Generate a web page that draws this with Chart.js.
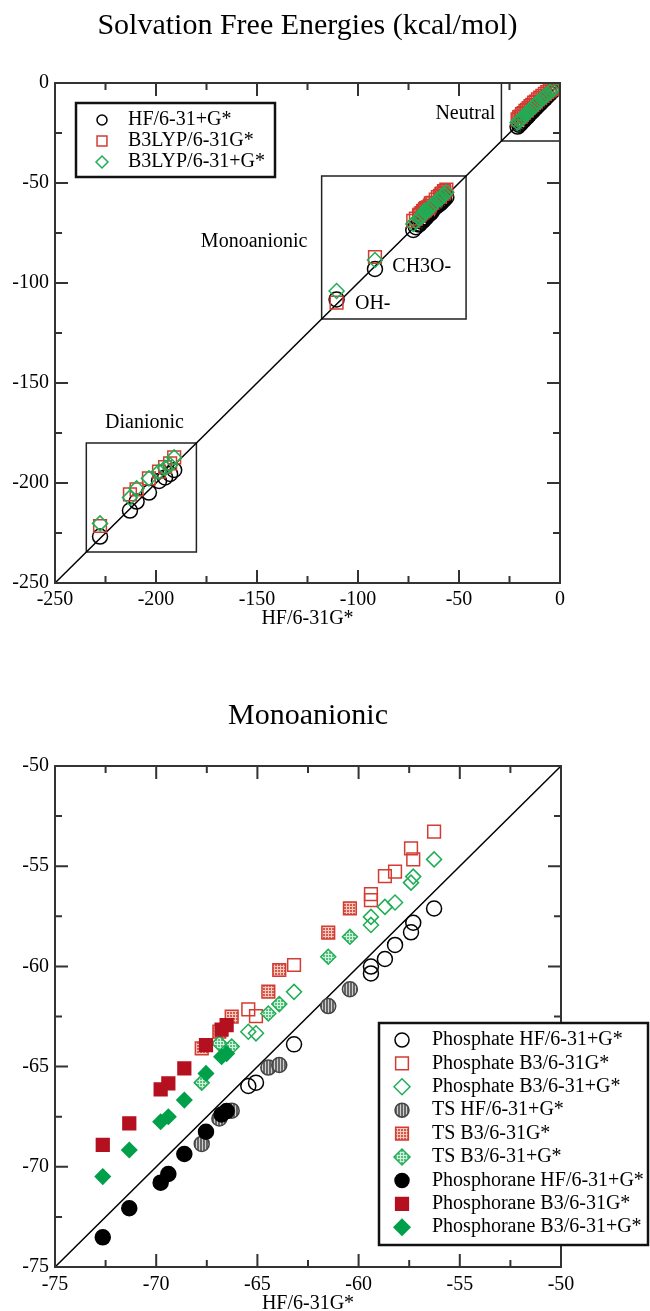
<!DOCTYPE html>
<html>
<head>
<meta charset="utf-8">
<script src="https://cdn.jsdelivr.net/npm/chart.js@4.4.1/dist/chart.umd.min.js"></script>
<style>
  html, body { margin: 0; padding: 0; background: #fff; }
  body { width: 650px; height: 1311px; position: relative; overflow: hidden; }
  #topChart { position: absolute; left: 0; top: 0; }
  #bottomChart { position: absolute; left: 0; top: 650px; }
</style>
</head>
<body>
<canvas id="topChart" width="650" height="650"></canvas>
<canvas id="bottomChart" width="650" height="661"></canvas>
<script>
// x is always HF/6-31G*, y the other level of theory (kcal/mol)

// Monoanionic: phosphates
const phosphateX   = [-65.45, -65.07, -63.19, -59.39, -59.39, -58.70, -58.20, -57.41, -57.30, -56.27];
const phosphateHF  = [-65.97, -65.80, -63.89, -60.01, -60.35, -59.63, -58.93, -58.30, -57.82, -57.11];
const phosphateB3  = [-62.14, -62.48, -59.93, -56.39, -56.69, -55.49, -55.27, -54.11, -54.66, -53.28];
const phosphateB3p = [-63.26, -63.34, -61.27, -57.53, -57.93, -57.03, -56.81, -55.82, -55.52, -54.66];

// Monoanionic: transition states
const tsX   = [-67.75, -66.88, -66.27, -64.46, -63.92, -61.50, -60.43];
const tsHF  = [-68.86, -67.59, -67.20, -65.05, -64.92, -61.98, -61.14];
const tsB3  = [-64.09, -63.26, -62.51, -61.26, -60.18, -58.32, -57.10];
const tsB3p = [-65.80, -63.84, -64.00, -62.35, -61.88, -59.52, -58.52];

// Monoanionic: phosphoranes
const phosphoraneX   = [-72.64, -71.33, -69.78, -69.40, -68.61, -67.54, -66.77, -66.52];
const phosphoraneHF  = [-73.52, -72.07, -70.79, -70.36, -69.36, -68.25, -67.39, -67.22];
const phosphoraneB3  = [-68.91, -67.83, -66.14, -65.84, -65.09, -63.93, -63.15, -62.93];
const phosphoraneB3p = [-70.49, -69.16, -67.75, -67.50, -66.67, -65.34, -64.51, -64.35];

// small anions CH3O-, OH-
const ionX   = [-91.6, -110.6];
const ionHF  = [-93.0, -108.2];
const ionB3  = [-87.0, -109.8];
const ionB3p = [-88.5, -104.0];

// neutral molecules
const neutralX   = [-21.0, -20.2, -19.5, -18.8, -18.0, -17.1, -16.3, -15.5, -14.6, -13.7, -12.8, -11.9, -10.9, -9.8, -8.7, -7.5, -6.3, -5.1, -4.0, -3.0];
const neutralHF  = [-21.8, -20.9, -20.3, -19.4, -18.7, -17.6, -16.9, -16.1, -15.0, -14.2, -13.1, -12.3, -11.2, -10.2, -9.0, -7.9, -6.6, -5.4, -4.2, -3.3];
const neutralB3  = [-18.2, -17.0, -16.8, -15.6, -15.1, -13.9, -13.4, -12.5, -11.6, -10.9, -9.8, -9.3, -8.2, -7.3, -6.4, -5.4, -4.6, -3.7, -3.0, -2.4];
const neutralB3p = [-19.8, -19.0, -18.3, -17.5, -16.7, -15.8, -15.0, -14.2, -13.3, -12.5, -11.5, -10.7, -9.8, -8.8, -7.7, -6.7, -5.5, -4.5, -3.6, -2.7];

// dianions
const dianionX   = [-227.7, -212.9, -209.6, -203.5, -198.5, -195.5, -193.0, -191.0];
const dianionHF  = [-226.8, -213.8, -209.3, -204.8, -199.0, -197.2, -195.5, -193.5];
const dianionB3  = [-221.5, -205.7, -203.2, -197.7, -194.3, -192.0, -190.2, -187.2];
const dianionB3p = [-220.2, -207.3, -202.7, -197.7, -194.3, -192.5, -191.0, -187.2];

const topLabels = ['HF/6-31+G*', 'B3LYP/6-31G*', 'B3LYP/6-31+G*'];
const bottomLabels = [
  'Phosphate HF/6-31+G*', 'Phosphate B3/6-31G*', 'Phosphate B3/6-31+G*',
  'TS HF/6-31+G*', 'TS B3/6-31G*', 'TS B3/6-31+G*',
  'Phosphorane HF/6-31+G*', 'Phosphorane B3/6-31G*', 'Phosphorane B3/6-31+G*'
];

// axis ranges and steps
const topRange = [-250, 0];
const topStep = 50;
const bottomRange = [-75, -50];
const bottomStep = 5;

// region boxes on the top chart (same range on both axes)
const neutralBox = [-29, 0];
const monoBox = [-118, -46.5];
const dianionBox = [-234.5, -180];

const regionText = ['Neutral', 'Monoanionic', 'Dianionic', 'CH3O-', 'OH-'];
const regionTextX = [-32, -125, -205.7, -83, -101.5];
const regionTextY = [-15.5, -79.5, -170, -92, -110.5];
const regionAlign = ['right', 'right', 'center', 'left', 'left'];

const SERIF = '"Liberation Serif", "Times New Roman", serif';
const BLACK = '#000';
const RED = '#d23c32';
const RED_DARK = '#b5101f';
const GREEN = '#1fae55';
const GREEN_DARK = '#00a04a';
const NONE = 'rgba(255,255,255,0)';

function pts(xs, ys) {
  return xs.map((x, i) => ({ x: x, y: ys[i] }));
}

function hatch(base, line, grid) {
  const c = document.createElement('canvas');
  c.width = 3; c.height = 3;
  const g = c.getContext('2d');
  g.fillStyle = base; g.fillRect(0, 0, 3, 3);
  g.fillStyle = line; g.fillRect(1, 0, 1, 3);
  if (grid) g.fillRect(0, 1, 3, 1);
  return g.createPattern(c, 'repeat');
}

function boxPts(b) {
  return [{x: b[0], y: b[0]}, {x: b[1], y: b[0]}, {x: b[1], y: b[1]}, {x: b[0], y: b[1]}, {x: b[0], y: b[0]}];
}

function lineSet(data, color) {
  return { data: data, showLine: true, borderColor: color, borderWidth: 1.5, pointRadius: 0, fill: false, order: 10 };
}

function markerSet(label, data, style, radius, border, fill, order) {
  return {
    label: label, data: data, inLegend: true,
    pointStyle: style, pointRadius: radius, pointBorderWidth: 1.5,
    pointBorderColor: border, pointBackgroundColor: fill,
    borderColor: border, backgroundColor: fill,
    showLine: false, order: order
  };
}

// inward ticks on all four sides plus the frame
const frameTicks = {
  id: 'frameTicks',
  afterDatasetsDraw(chart) {
    const { ctx, chartArea: a, scales: { x, y } } = chart;
    const major = 13, minor = 7;
    ctx.save();
    ctx.strokeStyle = '#333';
    ctx.lineWidth = 2;
    ctx.beginPath();
    x.ticks.forEach((t, i) => {
      const px = x.getPixelForValue(t.value);
      ctx.moveTo(px, a.bottom); ctx.lineTo(px, a.bottom - major);
      ctx.moveTo(px, a.top); ctx.lineTo(px, a.top + major);
      if (i < x.ticks.length - 1) {
        const mx = x.getPixelForValue((t.value + x.ticks[i + 1].value) / 2);
        ctx.moveTo(mx, a.bottom); ctx.lineTo(mx, a.bottom - minor);
        ctx.moveTo(mx, a.top); ctx.lineTo(mx, a.top + minor);
      }
    });
    y.ticks.forEach((t, i) => {
      const py = y.getPixelForValue(t.value);
      ctx.moveTo(a.left, py); ctx.lineTo(a.left + major, py);
      ctx.moveTo(a.right, py); ctx.lineTo(a.right - major, py);
      if (i < y.ticks.length - 1) {
        const my = y.getPixelForValue((t.value + y.ticks[i + 1].value) / 2);
        ctx.moveTo(a.left, my); ctx.lineTo(a.left + minor, my);
        ctx.moveTo(a.right, my); ctx.lineTo(a.right - minor, my);
      }
    });
    ctx.stroke();
    ctx.strokeRect(a.left, a.top, a.right - a.left, a.bottom - a.top);
    ctx.restore();
  }
};

// text labels placed in data coordinates
const regionLabels = {
  id: 'regionLabels',
  afterDraw(chart, args, opts) {
    if (!opts.text) return;
    const { ctx, scales: { x, y } } = chart;
    ctx.save();
    ctx.font = '20px ' + SERIF;
    ctx.fillStyle = '#000';
    ctx.textBaseline = 'middle';
    opts.text.forEach((t, i) => {
      ctx.textAlign = opts.align[i];
      ctx.fillText(t, x.getPixelForValue(opts.xs[i]), y.getPixelForValue(opts.ys[i]));
    });
    ctx.restore();
  }
};

// framed legend that may sit over the axis
const boxLegend = {
  id: 'boxLegend',
  afterDraw(chart, args, o) {
    const ctx = chart.ctx;
    ctx.save();
    ctx.fillStyle = '#fff';
    ctx.fillRect(o.left, o.top, o.width, o.height);
    ctx.strokeStyle = '#111';
    ctx.lineWidth = 2.5;
    ctx.strokeRect(o.left, o.top, o.width, o.height);
    ctx.font = '20px ' + SERIF;
    ctx.textBaseline = 'middle';
    ctx.textAlign = 'left';
    const items = chart.data.datasets.filter(d => d.inLegend);
    items.forEach((d, i) => {
      const cy = o.firstRow + i * o.rowHeight;
      const r = o.radius[d.pointStyle];
      ctx.fillStyle = d.pointBackgroundColor;
      ctx.strokeStyle = d.pointBorderColor;
      ctx.lineWidth = 1.5;
      Chart.helpers.drawPoint(ctx, { pointStyle: d.pointStyle, radius: r, borderWidth: 1.5, rotation: 0 }, o.markerX, cy);
      ctx.fillStyle = '#000';
      ctx.fillText(d.label, o.textX, cy);
    });
    ctx.restore();
  }
};

function axis(range, step, labelPad, height, titlePad) {
  const font = { family: SERIF, size: 20 };
  return {
    x: {
      type: 'linear', min: range[0], max: range[1],
      grid: { display: false, drawTicks: false }, border: { display: false },
      ticks: { stepSize: step, padding: labelPad, color: '#000', font: font, maxRotation: 0, autoSkip: false },
      title: { display: true, text: 'HF/6-31G*', color: '#000', font: font, padding: { top: 0, bottom: titlePad } },
      afterFit(s) { s.height = height; }
    },
    y: {
      type: 'linear', min: range[0], max: range[1],
      grid: { display: false, drawTicks: false }, border: { display: false },
      ticks: { stepSize: step, padding: 6, color: '#000', font: font, autoSkip: false },
      afterFit(s) { s.width = 55; }
    }
  };
}

// ---- top chart: all compounds ----
const monoX = phosphateX.concat(tsX, phosphoraneX);
const monoHF = phosphateHF.concat(tsHF, phosphoraneHF);
const monoB3 = phosphateB3.concat(tsB3, phosphoraneB3);
const monoB3p = phosphateB3p.concat(tsB3p, phosphoraneB3p);

const topHF = pts(neutralX, neutralHF).concat(pts(monoX, monoHF), pts(ionX, ionHF), pts(dianionX, dianionHF));
const topB3 = pts(neutralX, neutralB3).concat(pts(monoX, monoB3), pts(ionX, ionB3), pts(dianionX, dianionB3));
const topB3p = pts(neutralX, neutralB3p).concat(pts(monoX, monoB3p), pts(ionX, ionB3p), pts(dianionX, dianionB3p));

new Chart(document.getElementById('topChart'), {
  type: 'scatter',
  data: {
    datasets: [
      markerSet(topLabels[0], topHF, 'circle', 7.5, BLACK, NONE, 3),
      markerSet(topLabels[1], topB3, 'rect', 9, RED, NONE, 2),
      markerSet(topLabels[2], topB3p, 'rectRot', 7.5, GREEN, NONE, 1),
      lineSet([{ x: topRange[0], y: topRange[0] }, { x: topRange[1], y: topRange[1] }], '#000'),
      lineSet(boxPts(neutralBox), '#222'),
      lineSet(boxPts(monoBox), '#222'),
      lineSet(boxPts(dianionBox), '#222')
    ]
  },
  options: {
    responsive: false, animation: false, events: [], devicePixelRatio: 1,
    layout: { padding: { left: 0, right: 90, top: 0, bottom: 22 } },
    scales: axis(topRange, topStep, 5, 45, -3),
    plugins: {
      legend: { display: false }, tooltip: { enabled: false },
      title: { display: true, text: 'Solvation Free Energies (kcal/mol)', color: '#000', fullSize: false,
        font: { family: SERIF, size: 30, weight: 'normal' }, padding: { top: 8, bottom: 39 } },
      regionLabels: { text: regionText, xs: regionTextX, ys: regionTextY, align: regionAlign },
      boxLegend: { left: 76, top: 103, width: 199, height: 74, firstRow: 120, rowHeight: 21, markerX: 102, textX: 128,
        radius: { circle: 5, rect: 7, rectRot: 6 } }
    }
  },
  plugins: [frameTicks, regionLabels, boxLegend]
});

// ---- bottom chart: monoanionic detail ----
const tsGrey = hatch('#666', '#cfcfcf', false);
const tsRed = hatch('#d4584e', '#f7cabd', true);
const tsGreen = hatch('#55c080', '#d2f0dd', true);

new Chart(document.getElementById('bottomChart'), {
  type: 'scatter',
  data: {
    datasets: [
      markerSet(bottomLabels[0], pts(phosphateX, phosphateHF), 'circle', 7.5, BLACK, NONE, 9),
      markerSet(bottomLabels[1], pts(phosphateX, phosphateB3), 'rect', 9, RED, NONE, 8),
      markerSet(bottomLabels[2], pts(phosphateX, phosphateB3p), 'rectRot', 7.5, GREEN, NONE, 7),
      markerSet(bottomLabels[3], pts(tsX, tsHF), 'circle', 7.5, '#444', tsGrey, 6),
      markerSet(bottomLabels[4], pts(tsX, tsB3), 'rect', 9, RED, tsRed, 5),
      markerSet(bottomLabels[5], pts(tsX, tsB3p), 'rectRot', 7.5, GREEN, tsGreen, 4),
      markerSet(bottomLabels[6], pts(phosphoraneX, phosphoraneHF), 'circle', 7.5, BLACK, BLACK, 3),
      markerSet(bottomLabels[7], pts(phosphoraneX, phosphoraneB3), 'rect', 9, RED_DARK, RED_DARK, 2),
      markerSet(bottomLabels[8], pts(phosphoraneX, phosphoraneB3p), 'rectRot', 7.5, GREEN_DARK, GREEN_DARK, 1),
      lineSet([{ x: bottomRange[0], y: bottomRange[0] }, { x: bottomRange[1], y: bottomRange[1] }], '#000')
    ]
  },
  options: {
    responsive: false, animation: false, events: [], devicePixelRatio: 1,
    layout: { padding: { left: 0, right: 89, top: 0, bottom: 0 } },
    scales: axis(bottomRange, bottomStep, 6, 44, -5),
    plugins: {
      legend: { display: false }, tooltip: { enabled: false },
      title: { display: true, text: 'Monoanionic', color: '#000', fullSize: false,
        font: { family: SERIF, size: 30, weight: 'normal' }, padding: { top: 48, bottom: 32 } },
      boxLegend: { left: 379, top: 373, width: 269, height: 222, firstRow: 390, rowHeight: 23.4, markerX: 402, textX: 432,
        radius: { circle: 7, rect: 9, rectRot: 8 } }
    }
  },
  plugins: [frameTicks, boxLegend]
});
</script>
</body>
</html>
